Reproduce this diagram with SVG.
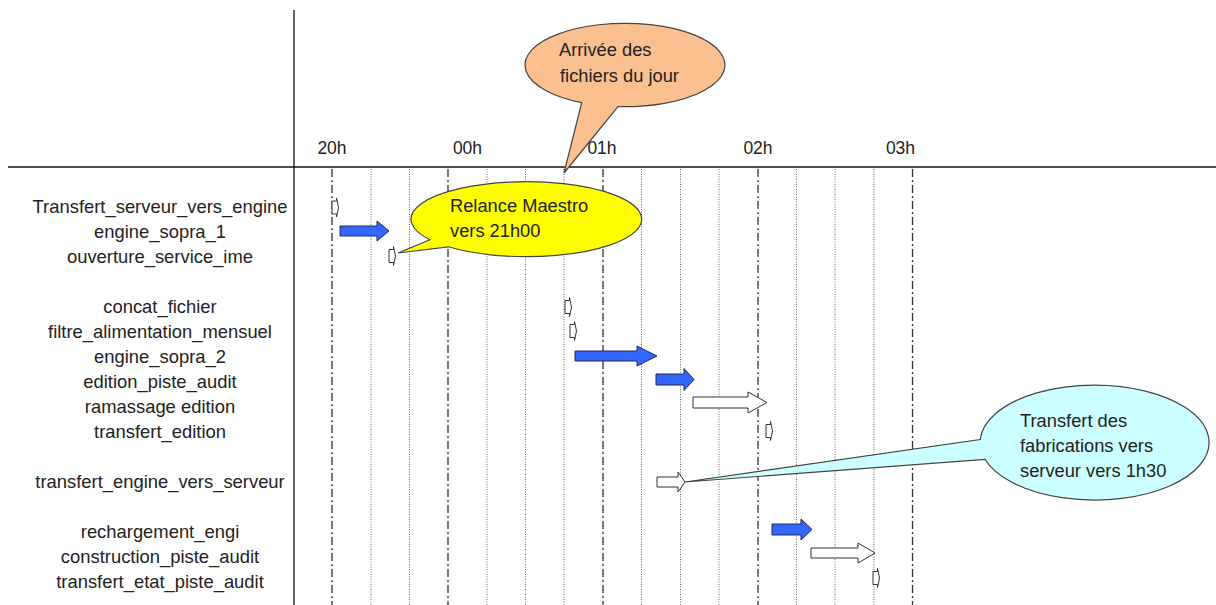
<svg xmlns="http://www.w3.org/2000/svg" width="1216" height="605" viewBox="0 0 1216 605">
<style>
  .lbl { font-family: "Liberation Sans", Arial, sans-serif; font-size: 18.4px; fill: #222; text-anchor: middle; }
  .hr { font-family: "Liberation Sans", Arial, sans-serif; font-size: 17.5px; fill: #222; text-anchor: middle; }
  .ct { font-family: "Liberation Sans", Arial, sans-serif; font-size: 18.3px; fill: #222; }
  .major { stroke: #333; stroke-width: 1.3; stroke-dasharray: 8 3 2 3; fill: none; }
  .minor { stroke: #666; stroke-width: 1; stroke-dasharray: 1 1.5; fill: none; }
  .blue { fill: #3366ff; stroke: #1f2a55; stroke-width: 1; }
  .white { fill: #ffffff; stroke: #333; stroke-width: 1; }
  .mark { fill: #ffffff; stroke: #333; stroke-width: 1; }
  .callout { stroke: #444; stroke-width: 1.2; }
</style>
<rect width="1216" height="605" fill="#ffffff"/>

<g id="grid">
  <line class="major" x1="332" y1="169" x2="332" y2="605"/>
  <line class="minor" x1="371" y1="169" x2="371" y2="605"/>
  <line class="minor" x1="409.5" y1="169" x2="409.5" y2="605"/>
  <line class="major" x1="448" y1="169" x2="448" y2="605"/>
  <line class="minor" x1="487" y1="169" x2="487" y2="605"/>
  <line class="minor" x1="525.5" y1="169" x2="525.5" y2="605"/>
  <line class="minor" x1="564" y1="169" x2="564" y2="605"/>
  <line class="major" x1="603" y1="169" x2="603" y2="605"/>
  <line class="minor" x1="641.5" y1="169" x2="641.5" y2="605"/>
  <line class="minor" x1="680.5" y1="169" x2="680.5" y2="605"/>
  <line class="minor" x1="719" y1="169" x2="719" y2="605"/>
  <line class="major" x1="758" y1="169" x2="758" y2="605"/>
  <line class="minor" x1="796.5" y1="169" x2="796.5" y2="605"/>
  <line class="minor" x1="835" y1="169" x2="835" y2="605"/>
  <line class="minor" x1="874" y1="169" x2="874" y2="605"/>
  <line class="major" x1="912.5" y1="169" x2="912.5" y2="605"/>
</g>

<g id="axes">
  <line x1="294" y1="10" x2="294" y2="605" stroke="#666" stroke-width="2"/>
  <line x1="8" y1="167" x2="1216" y2="167" stroke="#111" stroke-width="1.5"/>
  <text class="hr" x="332" y="154">20h</text>
  <text class="hr" x="467.5" y="154">00h</text>
  <text class="hr" x="602" y="154">01h</text>
  <text class="hr" x="758" y="154">02h</text>
  <text class="hr" x="900.5" y="154">03h</text>
</g>

<g id="task-transfert-serveur-vers-engine">
  <text class="lbl" x="160" y="213">Transfert_serveur_vers_engine</text>
  <path class="mark" d="M332 201 H336.5 V198 L338.5 207.5 L336.5 217 V214 H332 Z"/>
</g>
<g id="task-engine-sopra-1">
  <text class="lbl" x="160" y="238">engine_sopra_1</text>
  <path class="blue" d="M340 226 H377 V221 L389 231 L377 241 V236 H340 Z"/>
</g>
<g id="task-ouverture-service-ime">
  <text class="lbl" x="160" y="263">ouverture_service_ime</text>
  <path class="mark" d="M389 249.5 H393.5 V246.5 L395.5 256 L393.5 265.5 V262.5 H389 Z"/>
</g>
<g id="task-concat-fichier">
  <text class="lbl" x="160" y="313">concat_fichier</text>
  <path class="mark" d="M565 300.5 H569.5 V297.5 L571.5 307 L569.5 316.5 V313.5 H565 Z"/>
</g>
<g id="task-filtre-alimentation-mensuel">
  <text class="lbl" x="160" y="338">filtre_alimentation_mensuel</text>
  <path class="mark" d="M570 324.5 H574.5 V321.5 L576.5 331 L574.5 340.5 V337.5 H570 Z"/>
</g>
<g id="task-engine-sopra-2">
  <text class="lbl" x="160" y="363">engine_sopra_2</text>
  <path class="blue" d="M575 351 H637 V346 L657 356 L637 366 V361 H575 Z"/>
</g>
<g id="task-edition-piste-audit">
  <text class="lbl" x="160" y="388">edition_piste_audit</text>
  <path class="blue" d="M656 374 H684 V368.5 L694 379.5 L684 390.5 V385 H656 Z"/>
</g>
<g id="task-ramassage-edition">
  <text class="lbl" x="160" y="413">ramassage edition</text>
  <path class="white" d="M693 397 H748 V392 L767 402.5 L748 413 V408 H693 Z"/>
</g>
<g id="task-transfert-edition">
  <text class="lbl" x="160" y="438">transfert_edition</text>
  <path class="mark" d="M766 424.5 H770.5 V421.5 L772.5 431 L770.5 440.5 V437.5 H766 Z"/>
</g>
<g id="task-transfert-engine-vers-serveur">
  <text class="lbl" x="160" y="488">transfert_engine_vers_serveur</text>
  <path class="white" d="M657 477 H678 V472 L685 482 L678 492 V487 H657 Z"/>
</g>
<g id="task-rechargement-engi">
  <text class="lbl" x="160" y="538">rechargement_engi</text>
  <path class="blue" d="M772 524 H801 V519 L812 529.5 L801 540 V535 H772 Z"/>
</g>
<g id="task-construction-piste-audit">
  <text class="lbl" x="160" y="563">construction_piste_audit</text>
  <path class="white" d="M811 548 H858 V543 L875 553 L858 563 V558 H811 Z"/>
</g>
<g id="task-transfert-etat-piste-audit">
  <text class="lbl" x="160" y="588">transfert_etat_piste_audit</text>
  <path class="mark" d="M873 571.5 H877.5 V568.5 L879.5 578 L877.5 587.5 V584.5 H873 Z"/>
</g>

<g id="callout-arrivee">
  <path class="callout" fill="#fac090" d="M581.7 102.6 A 100 41.7 0 1 1 618 106.6 L 564 173 Z"/>
  <text class="ct" x="559" y="56">Arrivée des</text>
  <text class="ct" x="560" y="82">fichiers du jour</text>
</g>

<g id="callout-relance">
  <path class="callout" fill="#ffff00" d="M430 239.8 A 115.3 37.5 0 1 1 448.3 246.8 L 398 253 Z"/>
  <text class="ct" x="450" y="212">Relance Maestro</text>
  <text class="ct" x="450" y="237">vers 21h00</text>
</g>

<g id="callout-transfert">
  <path class="callout" fill="#ccffff" d="M980.2 439.5 A 114.5 57.5 0 1 1 985 459.3 L 685 482 Z"/>
  <text class="ct" x="1020" y="427">Transfert des</text>
  <text class="ct" x="1020" y="452">fabrications vers</text>
  <text class="ct" x="1020" y="477">serveur vers 1h30</text>
</g>
</svg>
